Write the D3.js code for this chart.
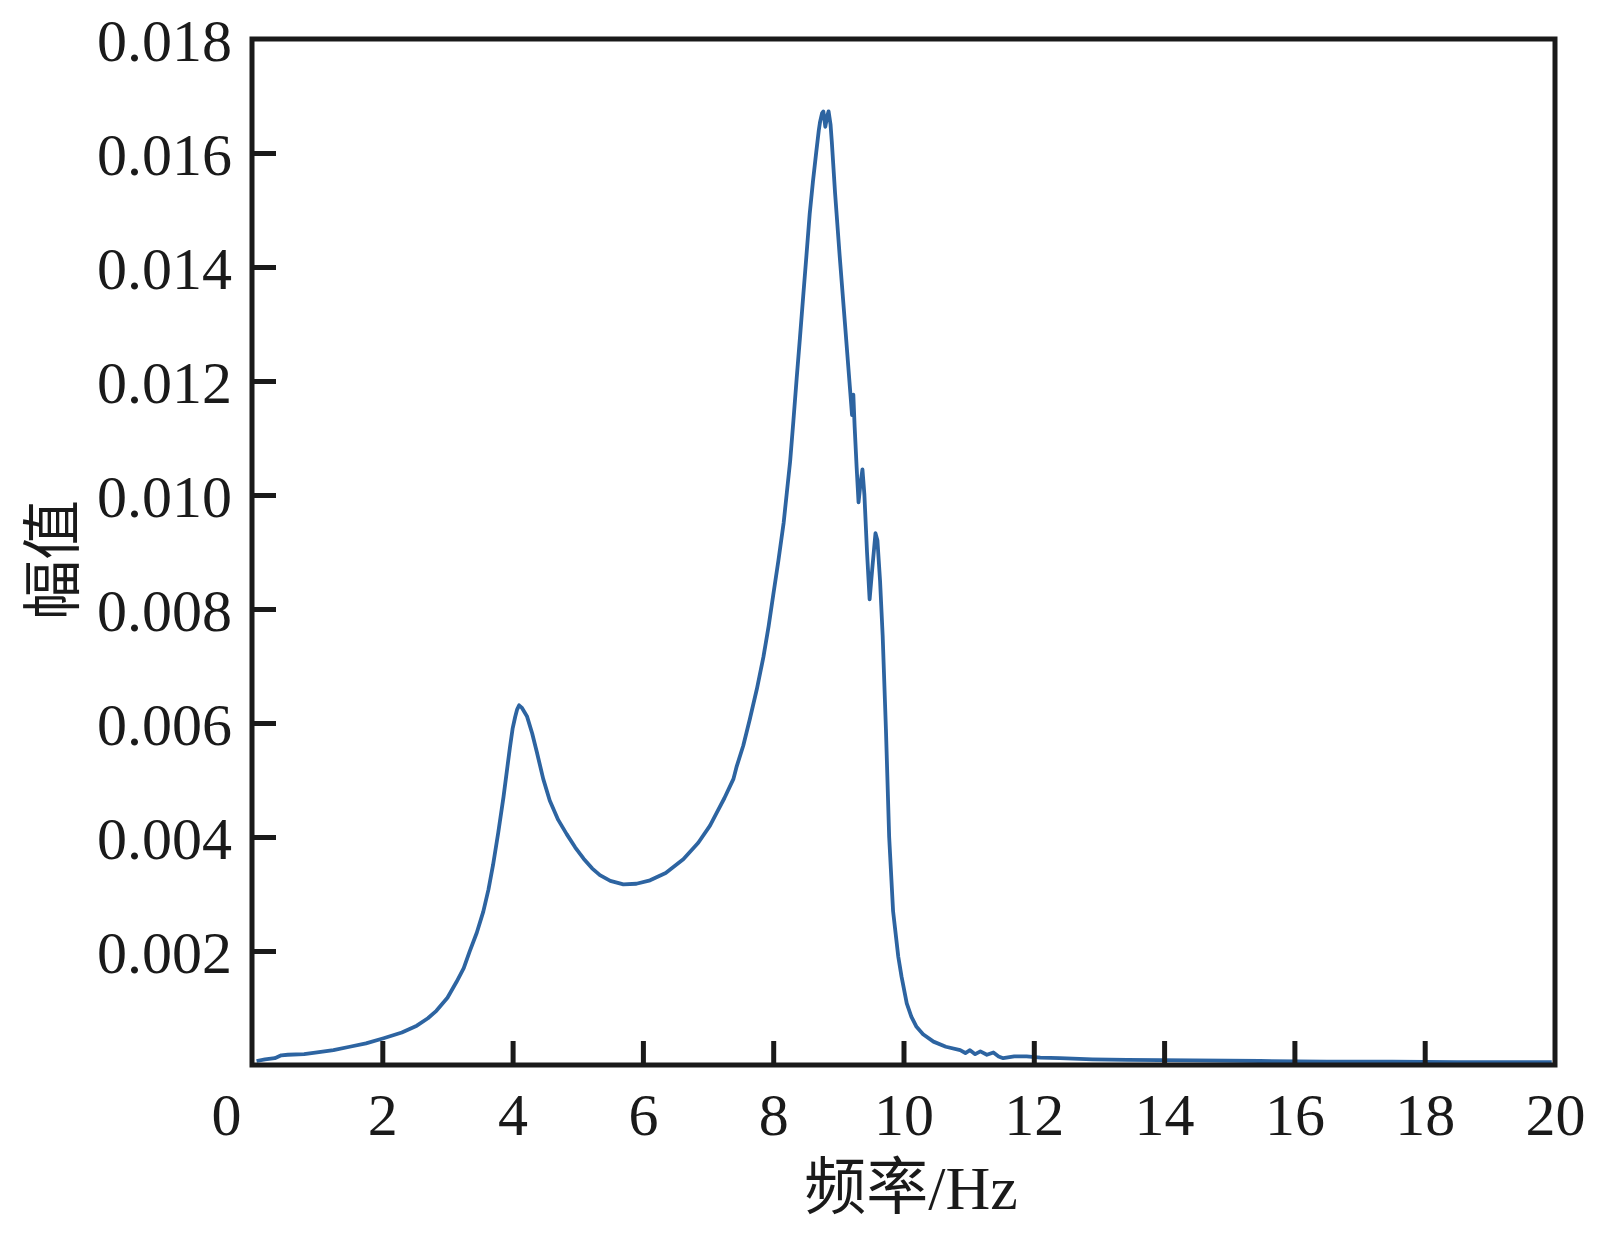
<!DOCTYPE html>
<html>
<head>
<meta charset="utf-8">
<script src="https://cdn.jsdelivr.net/npm/d3@7"></script>
<style>
  body { margin: 0; background: #fff; }
  svg text { fill: #1a1a1a; }
</style>
</head>
<body>
<div id="main"></div>
<script>
// frequency (Hz) and amplitude
const freq = [0.07,0.2,0.35,0.45,0.55,0.8,1.0,1.25,1.5,1.75,2.02,2.3,2.53,2.7,2.83,3.0,3.14,3.25,3.34,3.45,3.55,3.63,3.70,3.78,3.86,3.92,3.96,4.0,4.04,4.07,4.10,4.14,4.22,4.30,4.37,4.47,4.57,4.70,4.83,4.96,5.09,5.22,5.34,5.50,5.70,5.90,6.11,6.35,6.62,6.85,7.03,7.13,7.25,7.39,7.44,7.54,7.64,7.75,7.85,7.93,8.00,8.08,8.16,8.21,8.26,8.31,8.36,8.41,8.46,8.51,8.56,8.61,8.66,8.70,8.72,8.75,8.77,8.80,8.83,8.85,8.88,8.90,8.95,9.02,9.10,9.18,9.21,9.23,9.25,9.28,9.31,9.34,9.37,9.40,9.44,9.48,9.52,9.57,9.60,9.64,9.68,9.73,9.78,9.84,9.87,9.92,9.97,10.05,10.12,10.20,10.30,10.46,10.65,10.87,10.95,11.02,11.10,11.18,11.28,11.38,11.46,11.53,11.7,11.89,12.1,12.40,12.9,13.43,14.45,15.47,16.5,17.5,18.5,19.5,19.95];
const amp = [0.00007,0.00010,0.00012,0.00017,0.00018,0.00019,0.00022,0.00026,0.00032,0.00038,0.00047,0.00057,0.00069,0.00082,0.00095,0.00118,0.00146,0.00170,0.00199,0.00232,0.00269,0.00308,0.00351,0.00408,0.00470,0.00523,0.00558,0.00590,0.00611,0.00624,0.00631,0.00627,0.00612,0.00582,0.00550,0.00502,0.00464,0.00430,0.00405,0.00382,0.00362,0.00345,0.00333,0.00323,0.00317,0.00318,0.00324,0.00337,0.00361,0.00390,0.00420,0.00442,0.00468,0.00502,0.00524,0.00560,0.00606,0.00660,0.00716,0.00770,0.00824,0.00885,0.00951,0.01005,0.01059,0.01130,0.01204,0.01275,0.01348,0.01420,0.01493,0.01550,0.01601,0.01640,0.01655,0.01670,0.01673,0.01646,0.01665,0.01673,0.01650,0.01619,0.01529,0.01420,0.01303,0.01185,0.01140,0.01176,0.01120,0.01050,0.00987,0.01020,0.01045,0.01000,0.00900,0.00817,0.00870,0.00933,0.00920,0.00850,0.00754,0.00590,0.00400,0.00270,0.00240,0.00190,0.00155,0.00108,0.00085,0.00067,0.00054,0.00041,0.00032,0.00026,0.00021,0.00026,0.00019,0.00024,0.00018,0.00022,0.00015,0.00012,0.00015,0.00015,0.00013,0.00012,0.00010,0.00009,0.00008,0.00007,0.00006,0.00006,0.00005,0.00005,0.00005];

const xTicks = [0,2,4,6,8,10,12,14,16,18,20];
const yTicks = [0.002,0.004,0.006,0.008,0.010,0.012,0.014,0.016,0.018];
const xTitle = "频率/Hz";
const yTitle = "幅值";

const width = 1606, height = 1234;
const mLeft = 252, mRight = 1555, mTop = 39, mBottom = 1065;
const serif = "'Liberation Serif', 'Times New Roman', serif";
const cjk = "'Noto Sans CJK SC', sans-serif";

const svg = d3.select('#main').append('svg')
  .attr('width', width).attr('height', height);

const x = d3.scaleLinear().domain([0, 20]).range([mLeft, mRight]);
const y = d3.scaleLinear().domain([0, 0.018]).range([mBottom, mTop]);

// the curve
const data = freq.map((f, i) => [f, amp[i]]);
const line = d3.line().x(d => x(d[0])).y(d => y(d[1]));
svg.append('path').datum(data)
  .attr('d', line)
  .attr('fill', 'none')
  .attr('stroke', '#2d64a1')
  .attr('stroke-width', 3.8)
  .attr('stroke-linejoin', 'round');

// x axis, ticks inward
const xAxis = d3.axisBottom(x).tickValues(xTicks).tickSize(-24).tickPadding(0).tickFormat(d3.format('d'));
const gx = svg.append('g').attr('transform', 'translate(0,' + mBottom + ')').call(xAxis);
gx.select('.domain').remove();
gx.selectAll('.tick line').attr('stroke', '#1a1a1a').attr('stroke-width', 5)
  .filter(d => d === 0 || d === 20).remove();
gx.selectAll('.tick text')
  .attr('font-family', serif).attr('font-size', 60).attr('fill', '#1a1a1a')
  .attr('y', 70).attr('dy', 0)
  .attr('dx', d => d === 0 ? -26 : 0);

// y axis, ticks inward
const yAxis = d3.axisLeft(y).tickValues(yTicks).tickSize(-24).tickPadding(0).tickFormat(d3.format('.3f'));
const gy = svg.append('g').attr('transform', 'translate(' + mLeft + ',0)').call(yAxis);
gy.select('.domain').remove();
gy.selectAll('.tick line').attr('stroke', '#1a1a1a').attr('stroke-width', 5)
  .filter(d => d === 0.018).remove();
gy.selectAll('.tick text')
  .attr('font-family', serif).attr('font-size', 60).attr('fill', '#1a1a1a')
  .attr('x', -20).attr('dy', 0).attr('y', 21);

// frame
svg.append('rect')
  .attr('x', mLeft).attr('y', mTop)
  .attr('width', mRight - mLeft).attr('height', mBottom - mTop)
  .attr('fill', 'none').attr('stroke', '#1a1a1a').attr('stroke-width', 5);

// axis titles
const xt = svg.append('text')
  .attr('x', 911).attr('y', 1209)
  .attr('text-anchor', 'middle').attr('font-size', 62);
xt.append('tspan').attr('font-family', cjk).text(xTitle.slice(0, 2));
xt.append('tspan').attr('font-family', serif).text(xTitle.slice(2));

svg.append('text')
  .attr('transform', 'translate(47,560) rotate(-90)')
  .attr('text-anchor', 'middle')
  .attr('dominant-baseline', 'central')
  .attr('font-family', cjk).attr('font-size', 60)
  .text(yTitle);
</script>
</body>
</html>
